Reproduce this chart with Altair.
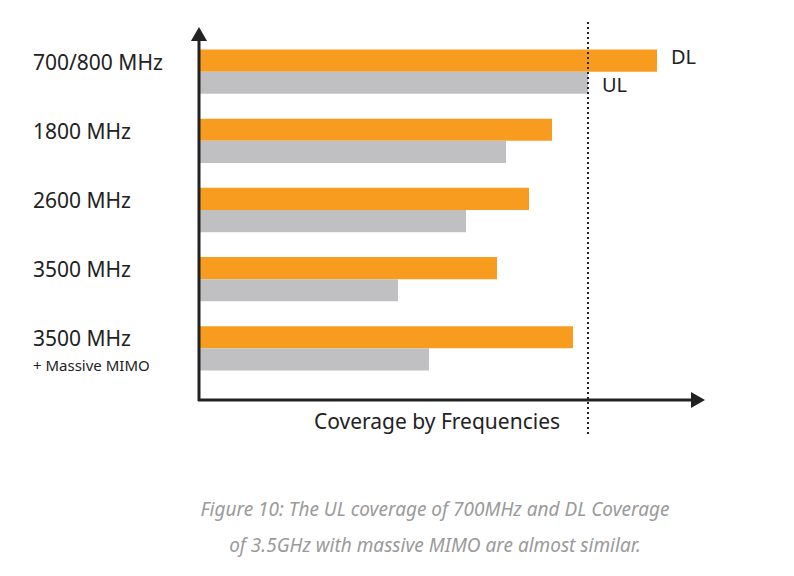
import altair as alt
import pandas as pd

bands = ["700/800 MHz", "1800 MHz", "2600 MHz", "3500 MHz", "3500 MHz "]
dl = [458, 353, 330, 298, 374]
ul = [389, 307, 267, 199, 230]
series = ["DL", "UL"]
colors = ["#f89c1f", "#c0c0c2"]

rows = []
for b, d, u in zip(bands, dl, ul):
    rows.append({"band": b, "series": "DL", "value": d})
    rows.append({"band": b, "series": "UL", "value": u})
df = pd.DataFrame(rows)

font = "Noto Sans"
xs = alt.Scale(domain=[0, 506], range=[191, 697])
ys = alt.Scale(domain=bands, range=[36, 368], paddingInner=0.36, paddingOuter=0.08)

bars = alt.Chart(df).mark_bar().encode(
    x=alt.X("value:Q", scale=xs, axis=None),
    y=alt.Y("band:N", scale=ys, axis=None),
    yOffset=alt.YOffset("series:N", scale=alt.Scale(domain=series, paddingInner=0, paddingOuter=0)),
    color=alt.Color("series:N", scale=alt.Scale(domain=series, range=colors), legend=None),
)

labels = alt.Chart(pd.DataFrame({"band": bands})).mark_text(
    align="left", baseline="middle", font=font, fontSize=21, color="#222222", dy=-8
).encode(x=alt.value(25), y=alt.Y("band:N", scale=ys, axis=None), text="band:N")

sub = alt.Chart(pd.DataFrame({"band": [bands[4]], "t": ["+ Massive MIMO"]})).mark_text(
    align="left", baseline="middle", font=font, fontSize=15, color="#222222", dy=18
).encode(x=alt.value(25), y=alt.Y("band:N", scale=ys, axis=None), text="t:N")

ends = pd.DataFrame({"value": [dl[0], ul[0]], "t": series, "y": [50, 78]})
end_text = alt.Chart(ends).mark_text(
    align="left", baseline="middle", font=font, fontSize=20, color="#222222", dx=14
).encode(x=alt.X("value:Q", scale=xs, axis=None), y=alt.Y("y:Q", scale=None), text="t:N")

dotted = alt.Chart(pd.DataFrame({"value": [ul[0]]})).mark_rule(
    strokeDash=[2, 3], strokeWidth=2, color="#222222"
).encode(x=alt.X("value:Q", scale=xs, axis=None), y=alt.value(14), y2=alt.value(428))

yaxis = alt.Chart().mark_rule(strokeWidth=3, color="#222222").encode(
    x=alt.value(191), y=alt.value(26), y2=alt.value(393))
xaxis = alt.Chart().mark_rule(strokeWidth=3, color="#222222").encode(
    x=alt.value(190), x2=alt.value(686), y=alt.value(392))
up = alt.Chart().mark_point(shape="triangle-up", filled=True, size=260, color="#222222", opacity=1).encode(
    x=alt.value(191), y=alt.value(26))
right = alt.Chart().mark_point(shape="triangle-right", filled=True, size=260, color="#222222", opacity=1).encode(
    x=alt.value(690), y=alt.value(392))

title = alt.Chart().mark_text(font=font, fontSize=21, color="#222222").encode(
    x=alt.value(429), y=alt.value(415), text=alt.value("Coverage by Frequencies"))
cap1 = alt.Chart().mark_text(font=font, fontSize=19, fontStyle="italic", color="#9a9a9a").encode(
    x=alt.value(427), y=alt.value(502),
    text=alt.value("Figure 10: The UL coverage of 700MHz and DL Coverage"))
cap2 = alt.Chart().mark_text(font=font, fontSize=19, fontStyle="italic", color="#9a9a9a").encode(
    x=alt.value(427), y=alt.value(538),
    text=alt.value("of 3.5GHz with massive MIMO are almost similar."))

chart = alt.layer(
    bars, labels, sub, end_text, dotted, yaxis, xaxis, up, right, title, cap1, cap2
).properties(
    width=778, height=560, autosize=alt.AutoSizeParams(type="none"), padding=0
).configure_view(stroke=None)

chart.save("out.html", embed_options={"renderer": "svg", "actions": False})
